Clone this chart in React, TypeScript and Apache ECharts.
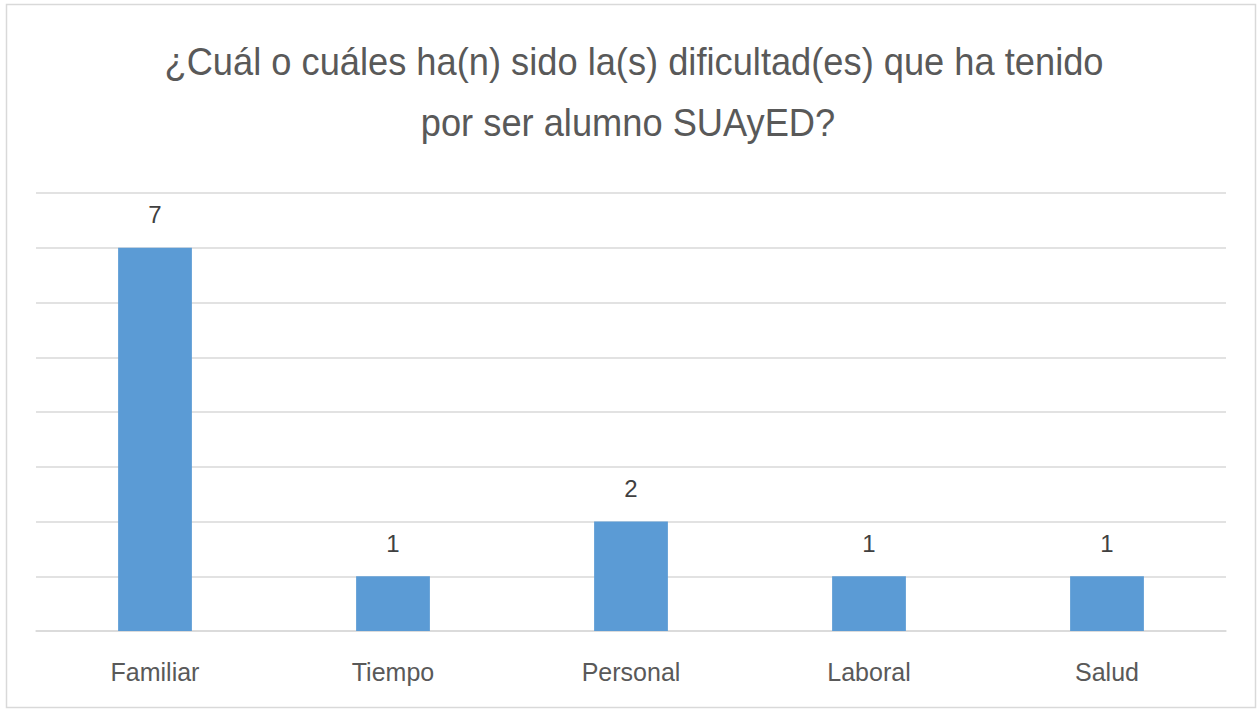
import React, { useEffect, useRef } from "react";
import * as echarts from "echarts";

const categories = ["Familiar", "Tiempo", "Personal", "Laboral", "Salud"];
const values = [7, 1, 2, 1, 1];
const titleLines = [
  "¿Cuál o cuáles ha(n) sido la(s) dificultad(es) que ha tenido",
  "por ser alumno SUAyED?",
];

const FONT = "'Liberation Sans', Arial, sans-serif";

export default function App() {
  const ref = useRef<HTMLDivElement>(null);
  useEffect(() => {
    document.body.style.margin = "0";
    const chart = echarts.init(ref.current!, null, { renderer: "svg" });
    chart.setOption({
      animation: false,
      backgroundColor: "#ffffff",
      graphic: [
        {
          type: "rect",
          shape: { x: 6.5, y: 4.5, width: 1249, height: 703 },
          style: { fill: "none", stroke: "#d9d9d9", lineWidth: 1.5 },
          silent: true,
        },
        {
          type: "text",
          x: 634,
          y: 32,
          scaleX: 0.93,
          style: {
            text: titleLines[0],
            fontFamily: FONT,
            fontSize: 39,
            lineHeight: 60,
            fill: "#595959",
            align: "center",
            verticalAlign: "top",
          },
          silent: true,
        },
        {
          type: "text",
          x: 628,
          y: 93,
          scaleX: 0.93,
          style: {
            text: titleLines[1],
            fontFamily: FONT,
            fontSize: 39,
            lineHeight: 60,
            fill: "#595959",
            align: "center",
            verticalAlign: "top",
          },
          silent: true,
        },
      ],
      grid: { left: 36, right: 31, top: 193, bottom: 78 },
      xAxis: {
        type: "category",
        data: categories,
        axisLine: { show: true, lineStyle: { color: "#d9d9d9", width: 1.5 } },
        axisTick: { show: false },
        axisLabel: {
          fontFamily: FONT,
          fontSize: 25,
          color: "#595959",
          margin: 28,
        },
      },
      yAxis: {
        type: "value",
        min: 0,
        max: 8,
        interval: 1,
        axisLabel: { show: false },
        axisLine: { show: false },
        axisTick: { show: false },
        splitLine: { lineStyle: { color: "#d9d9d9", width: 1.5 } },
      },
      series: [
        {
          type: "bar",
          data: values,
          barWidth: "31%",
          itemStyle: { color: "#5B9BD5" },
          label: {
            show: true,
            position: "top",
            distance: 21,
            fontFamily: FONT,
            fontSize: 24,
            color: "#404040",
          },
        },
      ],
    });
    return () => chart.dispose();
  }, []);
  return <div ref={ref} style={{ width: 1257, height: 709 }} />;
}
